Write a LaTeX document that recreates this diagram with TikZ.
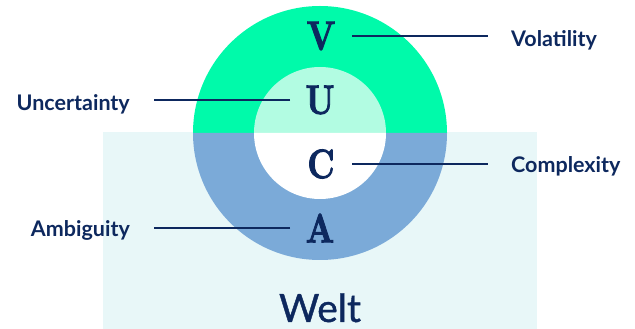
\documentclass[tikz,border=0pt]{standalone}
\usepackage{fontspec}
\newfontfamily\labelfont{Lato}
\newfontfamily\weltfont{Lato}[FakeBold=1]
\newfontfamily\capfont{lmroman10-bold}[Extension=.otf,FakeBold=2.5]
\usetikzlibrary{positioning}
\definecolor{navy}{RGB}{13,40,94}
\definecolor{vgreen}{RGB}{0,250,170}
\definecolor{ulight}{RGB}{178,252,226}
\definecolor{ablue}{RGB}{123,170,216}
\definecolor{weltbg}{RGB}{232,247,248}

\begin{document}
\begin{tikzpicture}[x=1pt,y=1pt,
  lbl/.style={font=\labelfont\bfseries\fontsize{21.5}{24}\selectfont,text=navy,inner sep=0pt},
  letter/.style={font=\capfont\fontsize{41}{41}\selectfont,text=navy,inner sep=0pt},
  link/.style={draw=navy,line width=2.2pt}]
  \useasboundingbox (0,0) rectangle (635,329);
  \fill[weltbg] (103,0) rectangle (537,197);
  % ring halves
  \fill[vgreen] (193,196) arc[start angle=180,end angle=0,radius=127] -- cycle;
  \fill[ablue] (193,196) arc[start angle=180,end angle=360,radius=127] -- cycle;
  \fill[ulight] (254,196) arc[start angle=180,end angle=0,radius=66] -- cycle;
  \fill[white] (254,196) arc[start angle=180,end angle=360,radius=66] -- cycle;
  \node[letter] (v) at (321,293) {\scalebox{0.8}[1]{V}};
  \node[letter] (u) at (320,229) {\scalebox{0.8}[1]{U}};
  \node[letter] (c) at (321,165) {\scalebox{0.8}[1]{C}};
  \node[letter] (a) at (320,101) {\scalebox{0.8}[1]{A}};
  \node[lbl,anchor=base west] (vol) at (511,282) {Volatility};
  \node[lbl,anchor=base east] (unc) at (130,218.5) {Uncertainty};
  \node[lbl,anchor=base west] (cpx) at (511,156) {Complexity};
  \node[lbl,anchor=base east] (amb) at (130,92.5) {Ambiguity};
  \node[font=\weltfont\fontsize{39}{42}\selectfont,text=navy,anchor=base] (welt) at (320,7) {Welt};
  \foreach \l/\t in {v/vol,c/cpx}{
    \draw[link] ([xshift=31]\l.center) -- ([xshift=-23]\t.west |- \l.center);}
  \foreach \l/\t in {u/unc,a/amb}{
    \draw[link] ([xshift=-30]\l.center) -- ([xshift=24]\t.east |- \l.center);}
\end{tikzpicture}
\end{document}
